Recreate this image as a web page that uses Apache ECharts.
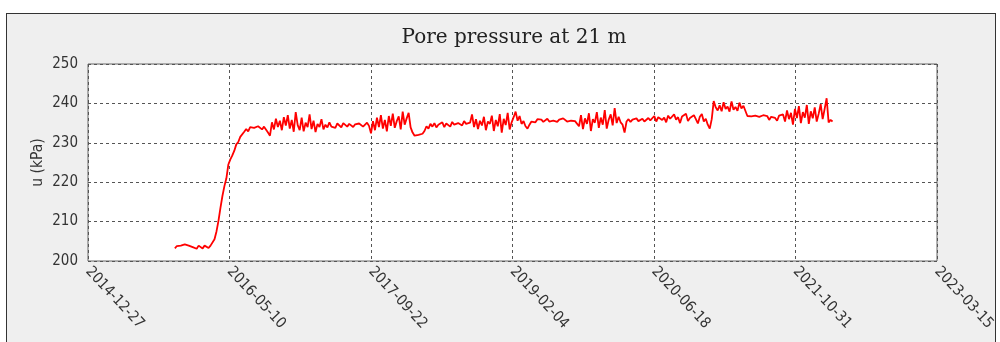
<!DOCTYPE html>
<html>
<head>
<meta charset="utf-8">
<script src="https://cdn.jsdelivr.net/npm/echarts@6/dist/echarts.min.js"></script>
<style>
  html, body { margin: 0; padding: 0; width: 1000px; height: 342px; background: #fff; overflow: hidden; }
  #panel { position: absolute; left: 6px; top: 13px; width: 988px; height: 340px; border: 1.5px solid #333; background: #efefef; }
  #chart { position: absolute; left: 0; top: 0; width: 1000px; height: 342px; }
</style>
</head>
<body>
<div id="panel"></div>
<div id="chart"></div>
<script>
// ---- data ----
const chartTitle = 'Pore pressure at 21 m';
const yAxisName = 'u (kPa)';
const axisOrigin = '2014-12-27';           // x axis zero (day 0)
const xTickLabels = ['2014-12-27', '2016-05-10', '2017-09-22', '2019-02-04', '2020-06-18', '2021-10-31', '2023-03-15'];
const yTicks = [200, 210, 220, 230, 240, 250];
const startDate = '2015-10-30';            // first reading
const stepDays = 7;                        // reading interval
const preFill = [203.2, 203.8, 204.1, 203.9, 204.4, 204.2, 203.7, 203.9, 204.0, 203.5, 203.9, 203.1, 203.9, 203.8, 203.2, 203.9, 203.8, 203.3, 203.9, 204.0];
const rise = [205.5, 207.5, 210.2, 213.5, 216.5, 219.0, 221.0, 224.5, 225.8, 226.8, 228.0, 229.6, 230.2, 231.5, 231.0, 232.8, 233.5, 232.9, 234.0, 233.6];
const y2016 = [233.8, 233.5, 234.2, 233.9, 233.4, 234.1, 233.8, 232.6,
  231.8, 235.2, 233.4, 236.1, 234.0, 235.6, 233.2, 236.5, 234.4, 237.0, 233.6, 235.8, 232.8, 237.8, 234.5,
  233.2, 236.4, 232.9, 235.1, 234.0, 237.2, 233.5, 235.6, 232.7, 234.8, 234.0, 236.0, 233.4, 234.6, 233.9, 235.2];
const y2017 = [234.1, 234.6, 233.8, 234.9, 234.4, 233.9, 235.0, 234.5, 234.1, 234.8, 234.3, 234.0, 234.7, 234.2, 234.9, 234.4, 234.1, 234.6, 235.1, 234.3, 232.4,
  235.5, 233.2, 236.4, 234.0, 237.0, 233.6, 235.8, 232.9, 236.8, 234.3, 237.4, 233.8, 235.5, 236.7, 233.4, 237.9, 234.6, 236.2, 237.6, 233.9,
  232.6, 231.8, 231.5, 232.0, 231.6, 232.3, 233.0];
const y2018 = [234.2, 233.6, 234.8, 234.1, 235.0, 233.9, 234.6, 234.3, 235.2, 234.0, 234.9, 234.5, 234.1, 235.3, 234.6, 234.2, 235.0, 234.7, 234.4, 235.5, 234.8, 234.3, 235.1,
  237.2, 234.0, 236.0, 233.5, 235.6, 234.4, 236.6, 233.2, 235.4, 234.8, 236.9, 233.0, 235.8, 234.2, 237.3, 232.6, 236.1, 234.5, 237.6, 233.4, 235.2];
const y2019 = [236.5, 237.9, 235.6, 236.8, 234.8, 235.5, 234.2, 233.6,
  234.6, 235.4, 235.8, 235.2, 236.0, 235.5, 235.9, 235.3, 235.7, 236.1, 235.4, 235.8, 235.6, 236.0, 235.3, 235.9, 235.5, 236.2, 235.7, 235.4, 235.9, 235.6, 236.1, 235.5, 235.8,
  234.2, 237.0, 233.5, 236.2, 234.8, 237.5, 233.0, 236.0, 235.1, 237.8, 233.8, 236.4, 234.6, 238.3, 233.6, 235.9, 237.2, 234.4, 238.8, 235.0, 236.6];
const y2020 = [235.2, 234.6, 232.6, 235.4, 236.0, 235.3, 235.9, 235.6, 236.2, 235.5, 235.8, 236.1, 235.4, 235.9, 236.3, 235.7, 236.0,
  236.8, 235.4, 236.5, 237.0, 235.8, 236.4, 235.2, 236.9, 236.1, 235.6, 237.2, 235.9, 236.5, 235.0, 236.7,
  236.2, 237.4, 235.5, 236.3, 235.8, 237.0, 236.0, 234.9, 236.6, 237.3, 235.4, 236.1, 234.6, 233.6, 236.0];
const y2021 = [240.6, 239.0, 238.2, 239.5, 238.0, 240.3, 238.6, 239.2, 237.9, 240.5, 238.4, 239.1, 238.1, 240.2, 238.7, 239.4, 238.9,
  236.8, 236.3, 236.7, 236.5, 236.9, 236.4, 236.6, 236.2, 237.0, 236.5, 236.8, 235.8, 236.6, 237.1, 236.3, 235.6, 236.9, 236.4, 237.2];
const y2022 = [235.4, 238.2, 236.0, 237.6, 234.6, 238.6, 236.3, 239.3, 235.0, 237.8, 236.4, 239.6, 234.8, 238.0, 236.2, 239.0, 235.4, 237.4, 239.8, 236.0, 238.6, 241.3, 235.2,
  235.8, 235.4];

// ---- build ----
const values = [].concat(preFill, rise, y2016, y2017, y2018, y2019, y2020, y2021, y2022);
const DAY = 86400000;
const originMs = Date.parse(axisOrigin + 'T00:00:00Z');
const startOffset = Math.round((Date.parse(startDate + 'T00:00:00Z') - originMs) / DAY);
const seriesData = values.map((v, i) => [startOffset + i * stepDays, v]);
const tickStep = 500;

const chart = echarts.init(document.getElementById('chart'), null, { renderer: 'canvas' });
const labelFont = 'DejaVu Sans Condensed';
chart.setOption({
  backgroundColor: 'transparent',
  animation: false,
  title: {
    text: chartTitle,
    left: 509, top: 23, textAlign: 'center',
    textStyle: { fontFamily: 'DejaVu Serif', fontSize: 20, fontWeight: 'normal', color: '#222' }
  },
  grid: {
    left: 88, right: 63, top: 64, bottom: 81,
    show: true, backgroundColor: '#ffffff', borderColor: '#666', borderWidth: 1
  },
  xAxis: {
    type: 'value',
    min: 0, max: tickStep * (xTickLabels.length - 1), interval: tickStep,
    axisLine: { show: false },
    axisTick: { show: false },
    axisLabel: {
      rotate: -47, margin: 8, fontSize: 15, color: '#333', fontFamily: labelFont,
      formatter: v => xTickLabels[Math.round(v / tickStep)]
    },
    splitLine: { show: true, lineStyle: { color: '#555', type: [3, 3], width: 1 } }
  },
  yAxis: {
    type: 'value',
    min: yTicks[0], max: yTicks[yTicks.length - 1], interval: yTicks[1] - yTicks[0],
    name: yAxisName, nameLocation: 'middle', nameGap: 42, nameRotate: 90,
    nameMoveOverlap: false,
    nameTextStyle: { fontSize: 15.5, color: '#333', fontFamily: labelFont },
    axisLine: { show: false },
    axisTick: { show: false },
    axisLabel: { margin: 10, fontSize: 15, color: '#333', fontFamily: labelFont },
    splitLine: { show: true, lineStyle: { color: '#555', type: [3, 3], width: 1 } }
  },
  series: [{
    type: 'line',
    data: seriesData,
    showSymbol: false,
    lineStyle: { color: '#ff0000', width: 1.8 },
    itemStyle: { color: '#ff0000' }
  }]
});
</script>
</body>
</html>
